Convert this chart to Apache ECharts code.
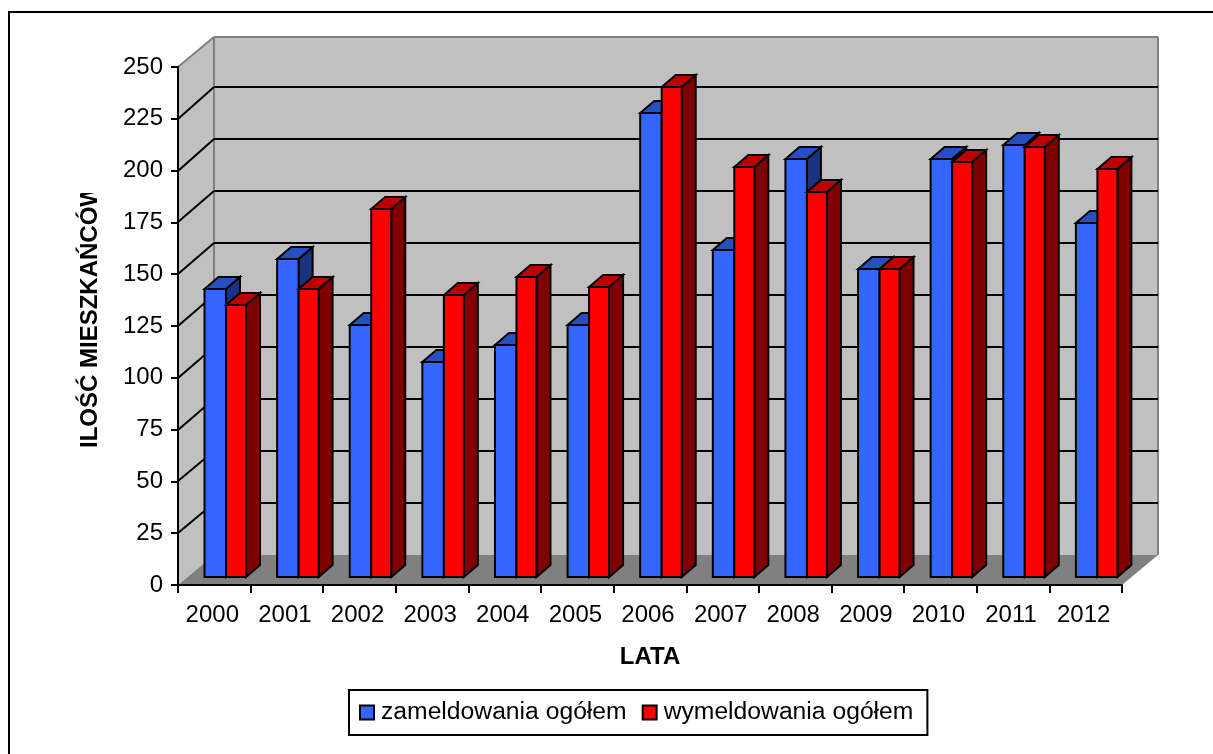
<!DOCTYPE html>
<html><head><meta charset="utf-8">
<style>html,body{margin:0;padding:0;background:#fff}#c{width:1213px;height:754px}</style>
<script src="https://cdn.jsdelivr.net/npm/echarts@6/dist/echarts.min.js"></script>
</head><body><div id="c"></div>
<script>
const years = ['2000','2001','2002','2003','2004','2005','2006','2007','2008','2009','2010','2011','2012'];
const zameldowania = [139,153.5,121.5,104,112,121.5,224,158,201.5,148.5,201.5,208.5,171];
const wymeldowania = [131.5,139,177.5,136,145,140,236.5,198,186,148.5,200.5,207.5,197];
const yTicks = [0,25,50,75,100,125,150,175,200,225,250];
const FONT = '"Liberation Sans", Arial, sans-serif';
const DX = 36, DY = -30;          // wall depth
const BACK_STEP = 52 / 51.8;      // back wall gridlines are spaced a touch wider
const BX = 11.7, BY = -8;         // bar position inside the depth
const SX = 14, SY = -12;          // bar depth
const BW = 21;

function poly(pts, fill, stroke, w) {
  return {type:'polygon', shape:{points:pts}, style:{fill:fill, stroke:stroke||null, lineWidth:w||0, lineJoin:'miter'}};
}
function line(x1,y1,x2,y2,stroke,w){
  return {type:'line', shape:{x1,y1,x2,y2}, style:{stroke, lineWidth:w, fill:null}};
}
function wallItem(params, api) {
  const g = params.coordSys, l=g.x, r=g.x+g.width, t=g.y, b=g.y+g.height;
  return {type:'group', children:[
    poly([[l,b],[l,t],[l+DX,t+DY],[l+DX,b+DY]],'#C0C0C0'),
    poly([[l+DX,t+DY],[r+DX,t+DY],[r+DX,b+DY],[l+DX,b+DY]],'#C0C0C0'),
    poly([[l,b],[r,b],[r+DX,b+DY],[l+DX,b+DY]],'#808080'),
    line(l,t,l+DX,t+DY,'#808080',2),
    line(l+DX,t+DY,r+DX,t+DY,'#808080',2),
    line(l+DX,t+DY,l+DX,b+DY,'#808080',2),
    line(r+DX,t+DY,r+DX,b+DY,'#808080',2)
  ]};
}
function gridItem(params, api) {
  const g = params.coordSys, l=g.x, r=g.x+g.width, b=g.y+g.height;
  const yf = api.coord([0, api.value(0)])[1];
  if (api.value(0)===0 || api.value(0)===250) return {type:'group',children:[]};
  const y = Math.round(yf);
  const yb = Math.round(b+DY-(b-yf)*BACK_STEP);
  return {type:'group', children:[
    line(l,y,l+DX,yb,'#000',2),
    line(l+DX,yb,r+DX,yb,'#000',2)
  ]};
}
function barItem(side, cf, ct, cs) {
  return function(params, api) {
    const p = api.coord([api.value(0), api.value(1)]);
    const p0 = api.coord([api.value(0), 0]);
    const mid = p[0]+BX;
    const x0 = side===0 ? mid-BW-0.5 : mid;
    const x1 = side===0 ? mid : mid+BW-1;
    const top = Math.round(p[1]+BY), bot = Math.round(p0[1]+BY);
    return {type:'group', children:[
      poly([[x1,top],[x1+SX,top+SY],[x1+SX,bot+SY],[x1,bot]],cs,'#000',2),
      poly([[x0,top],[x0+SX,top+SY],[x1+SX,top+SY],[x1,top]],ct,'#000',2),
      poly([[x0,top],[x1,top],[x1,bot],[x0,bot]],cf,'#000',2)
    ]};
  };
}
const chart = echarts.init(document.getElementById('c'),null,{renderer:'canvas'});
chart.setOption({
  animation:false,
  backgroundColor:'#fff',
  grid:{left:178, top:67, width:944, height:518, containLabel:false},
  xAxis:{type:'category', data:years, z:5,
    name:'LATA', nameLocation:'middle', nameGap:60,
    nameTextStyle:{fontFamily:FONT,fontSize:24,fontWeight:'bold',color:'#000'},
    axisLine:{lineStyle:{color:'#000',width:2}},
    axisTick:{show:true,length:8,lineStyle:{color:'#000',width:2}},
    axisLabel:{fontFamily:FONT,fontSize:24,color:'#000',margin:18,interval:0,padding:[0,4,0,0]},
    splitLine:{show:false}
  },
  yAxis:{type:'value', min:0, max:250, interval:25, z:5,
    name:'ILOŚĆ MIESZKAŃCÓW', nameLocation:'middle', nameGap:76, nameRotate:90,
    nameTextStyle:{fontFamily:FONT,fontSize:24,fontWeight:'bold',color:'#000',padding:[0,0,0,20]},
    axisLine:{show:true,lineStyle:{color:'#000',width:2}},
    axisTick:{show:true,length:7,lineStyle:{color:'#000',width:2}},
    axisLabel:{fontFamily:FONT,fontSize:24,color:'#000',margin:15},
    splitLine:{show:false}
  },
  legend:{left:349, top:690, orient:'horizontal', icon:'rect', itemWidth:14, itemHeight:14, itemGap:15,
    padding:[10,14,10,10], borderColor:'#000', borderWidth:2, backgroundColor:'#fff',
    textStyle:{fontFamily:FONT,fontSize:24.7,color:'#000',padding:[3,0,0,2]},
    itemStyle:{borderColor:'#000',borderWidth:2},
    data:['zameldowania ogółem','wymeldowania ogółem']
  },
  graphic:[
    {type:'rect', z:100, shape:{x:9,y:12,width:1400,height:1000}, style:{fill:null,stroke:'#000',lineWidth:2}, silent:true},
    {type:'rect', z:100, shape:{x:72,y:150,width:36,height:43}, style:{fill:'#fff'}, silent:true}
  ],
  series:[
    {type:'custom', name:'ściany', silent:true, renderItem:wallItem, data:[[0]], encode:{x:0}, clip:false, z:1},
    {type:'custom', name:'siatka', silent:true, renderItem:gridItem, data:yTicks.map(v=>[v]), encode:{y:0}, clip:false, z:1},
    {type:'custom', name:'zameldowania ogółem', renderItem:barItem(0,'#3366FF','#2650C0','#1A3380'),
      itemStyle:{color:'#3366FF'}, data:zameldowania.map((v,i)=>[i,v]), encode:{x:0,y:1}, clip:false, z:2},
    {type:'custom', name:'wymeldowania ogółem', renderItem:barItem(1,'#FF0000','#BF0000','#800000'),
      itemStyle:{color:'#FF0000'}, data:wymeldowania.map((v,i)=>[i,v]), encode:{x:0,y:1}, clip:false, z:2}
  ]
});
</script></body></html>
